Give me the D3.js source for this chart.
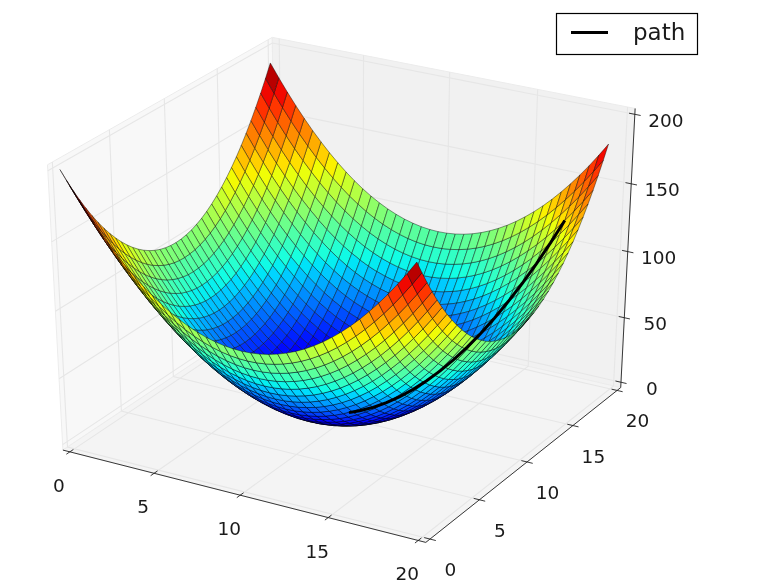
<!DOCTYPE html>
<html>
<head>
<meta charset="utf-8">
<style>
html,body{margin:0;padding:0;background:#fff;}
svg{display:block;filter:blur(0.4px);}
text{font-family:"DejaVu Sans",sans-serif;fill:#1a1a1a;}
</style>
<script src="https://cdn.jsdelivr.net/npm/d3@7"></script>
</head>
<body>
<svg id="chart" width="758" height="584"></svg>
<script>
// ---- data ----
const xGrid = [0,0.5,1,1.5,2,2.5,3,3.5,4,4.5,5,5.5,6,6.5,7,7.5,8,8.5,9,9.5,10,10.5,11,11.5,12,12.5,13,13.5,14,14.5,15,15.5,16,16.5,17,17.5,18,18.5,19,19.5];
const yGrid = [0,0.5,1,1.5,2,2.5,3,3.5,4,4.5,5,5.5,6,6.5,7,7.5,8,8.5,9,9.5,10,10.5,11,11.5,12,12.5,13,13.5,14,14.5,15,15.5,16,16.5,17,17.5,18,18.5,19,19.5];
// height contributed along each grid direction; a cell corner's height is the sum of the two
const xProfile = [100,90.25,81,72.25,64,56.25,49,42.25,36,30.25,25,20.25,16,12.25,9,6.25,4,2.25,1,0.25,0,0.25,1,2.25,4,6.25,9,12.25,16,20.25,25,30.25,36,42.25,49,56.25,64,72.25,81,90.25];
const yProfile = [100,90.25,81,72.25,64,56.25,49,42.25,36,30.25,25,20.25,16,12.25,9,6.25,4,2.25,1,0.25,0,0.25,1,2.25,4,6.25,9,12.25,16,20.25,25,30.25,36,42.25,49,56.25,64,72.25,81,90.25];
const pathX = [18,17.5,17,16.5,16,15.5,15,14.5,14,13.5,13,12.5,12,11.5,11,10.5,10.1];
const pathY = [18,17.5,17,16.5,16,15.5,15,14.5,14,13.5,13,12.5,12,11.5,11,10.5,10.1];
const pathZ = [128,112.5,98,84.5,72,60.5,50,40.5,32,24.5,18,12.5,8,4.5,2,0.5,0.02];
const xTicks = [0,5,10,15,20];
const yTicks = [0,5,10,15,20];
const zTicks = [0,50,100,150,200];
const legendLabel = "path";

// ---- scales ----
const xS = d3.scaleLinear().domain([0,20]).range([0,1]);
const yS = d3.scaleLinear().domain([0,20]).range([0,1]);
const zS = d3.scaleLinear().domain([0,200]).range([0,1]);
const pxX = d3.scaleLinear().domain([0,0.1]).range([346.3,346.3+402.1]);
const pxY = d3.scaleLinear().domain([0,0.1]).range([280.9,280.9-312.6]);

// jet colormap
const jetR = d3.scaleLinear().domain([0,0.35,0.66,0.89,1]).range([0,0,1,1,0.5]).clamp(true);
const jetG = d3.scaleLinear().domain([0,0.125,0.375,0.64,0.91,1]).range([0,0,1,1,0,0]).clamp(true);
const jetB = d3.scaleLinear().domain([0,0.11,0.34,0.65,1]).range([0.5,1,1,0,0]).clamp(true);
const jet = t => d3.rgb(jetR(t)*255,jetG(t)*255,jetB(t)*255).formatRgb();

// ---- view: elevation 30, azimuth -60, distance 10 ----
const el = 30*Math.PI/180, az = -60*Math.PI/180, dist = 10;
const n = [Math.cos(az)*Math.cos(el),Math.sin(az)*Math.cos(el),Math.sin(el)];
const u = [-n[1],n[0],0].map(v=>v/Math.hypot(n[0],n[1]));
const v = [n[1]*u[2]-n[2]*u[1],n[2]*u[0]-n[0]*u[2],n[0]*u[1]-n[1]*u[0]];
const dot = (a,b)=>a[0]*b[0]+a[1]*b[1]+a[2]*b[2];
function proj(nx,ny,nz){
  const c=[nx-0.5,ny-0.5,nz-0.5], d=dist-dot(n,c);
  return {x:pxX(dot(u,c)/d), y:pxY(dot(v,c)/d), d};
}
const P = (x,y,z)=>proj(xS(x),yS(y),zS(z));
const pt = p=>[p.x,p.y];

const svg = d3.select("#chart");
const lo = -1/48, hi = 49/48;
const poly = pts => "M"+pts.map(p=>p.x.toFixed(2)+","+p.y.toFixed(2)).join("L")+"Z";
const lineGen = d3.line();

// ---- panes ----
const panes = [
  {fill:"#f8f8f8",c:[[lo,lo,lo],[lo,hi,lo],[lo,hi,hi],[lo,lo,hi]]},
  {fill:"#f1f1f1",c:[[lo,hi,lo],[hi,hi,lo],[hi,hi,hi],[lo,hi,hi]]},
  {fill:"#f4f4f4",c:[[lo,lo,lo],[hi,lo,lo],[hi,hi,lo],[lo,hi,lo]]}
];
svg.append("g").selectAll("path").data(panes).join("path")
  .attr("d",d=>poly(d.c.map(c=>proj(...c))))
  .attr("fill",d=>d.fill).attr("stroke","#ececec").attr("stroke-width",1);

// ---- grid lines ----
const gridLines = [];
xTicks.forEach(t=>{const a=xS(t);gridLines.push([[a,lo,lo],[a,hi,lo],[a,hi,hi]]);});
yTicks.forEach(t=>{const a=yS(t);gridLines.push([[hi,a,lo],[lo,a,lo],[lo,a,hi]]);});
zTicks.forEach(t=>{const a=zS(t);gridLines.push([[lo,lo,a],[lo,hi,a],[hi,hi,a]]);});
svg.append("g").selectAll("path").data(gridLines).join("path")
  .attr("d",d=>lineGen(d.map(c=>pt(proj(...c)))))
  .attr("fill","none").attr("stroke","#e6e6e6").attr("stroke-width",1.1);

// ---- axes ----
const axisG = svg.append("g");
const axisLines = [
  [[lo,lo,lo],[hi,lo,lo]],
  [[hi,lo,lo],[hi,hi,lo]],
  [[hi,hi,lo],[hi,hi,hi]]
];
axisG.selectAll("path.axis").data(axisLines).join("path").attr("class","axis")
  .attr("d",d=>lineGen(d.map(c=>pt(proj(...c)))))
  .attr("fill","none").attr("stroke","#222").attr("stroke-width",0.9);
const tl = 0.016;
const tickSegs = [];
xTicks.forEach(t=>{const a=xS(t);tickSegs.push({s:[[a,lo-tl,lo],[a,lo+tl,lo]],at:[a,lo,lo],label:t,off:[-11,33.5]});});
yTicks.forEach(t=>{const a=yS(t);tickSegs.push({s:[[hi-tl,a,lo],[hi+tl,a,lo]],at:[hi,a,lo],label:t,off:[20.5,30.5]});});
zTicks.forEach(t=>{const a=zS(t);tickSegs.push({s:[[hi-tl,hi,a],[hi+tl,hi,a]],at:[hi,hi,a],label:t,off:[31,6]});});
axisG.selectAll("path.tick").data(tickSegs).join("path").attr("class","tick")
  .attr("d",d=>lineGen(d.s.map(c=>pt(proj(...c)))))
  .attr("fill","none").attr("stroke","#222").attr("stroke-width",0.9);
axisG.selectAll("text").data(tickSegs).join("text")
  .attr("x",d=>proj(...d.at).x+d.off[0])
  .attr("y",d=>proj(...d.at).y+d.off[1])
  .attr("text-anchor","middle").attr("dominant-baseline","central")
  .attr("font-size",18.5).text(d=>d.label);

// ---- surface ----
const cells = [];
const height = (i,j)=>xProfile[i]+yProfile[j];
for(let i=0;i<xGrid.length-1;i++){
  for(let j=0;j<yGrid.length-1;j++){
    const corners=[[i,j],[i+1,j],[i+1,j+1],[i,j+1]];
    const pts=corners.map(([a,b])=>P(xGrid[a],yGrid[b],height(a,b)));
    cells.push({pts,z:d3.mean(corners,([a,b])=>height(a,b)),depth:d3.mean(pts,p=>p.d)});
  }
}
const zNorm = d3.scaleLinear().domain(d3.extent(cells,c=>c.z)).range([0,1]);
cells.sort((a,b)=>d3.descending(a.depth,b.depth));
svg.append("g").selectAll("path").data(cells).join("path")
  .attr("d",d=>poly(d.pts))
  .attr("fill",d=>jet(zNorm(d.z)))
  .attr("stroke","rgba(0,0,0,0.55)").attr("stroke-width",0.75);

// ---- path line ----
svg.append("path")
  .attr("d",lineGen(pathX.map((x,i)=>pt(P(x,pathY[i],pathZ[i])))))
  .attr("fill","none").attr("stroke","#000").attr("stroke-width",3);

// ---- legend ----
const lg = svg.append("g");
lg.append("rect").attr("x",556.5).attr("y",13.5).attr("width",141).attr("height",41)
  .attr("fill","#fff").attr("stroke","#000").attr("stroke-width",1.2);
lg.append("line").attr("x1",571).attr("x2",608).attr("y1",32.5).attr("y2",32.5)
  .attr("stroke","#000").attr("stroke-width",3);
lg.append("text").attr("x",633).attr("y",40).attr("font-size",23).text(legendLabel);
</script>
</body>
</html>
